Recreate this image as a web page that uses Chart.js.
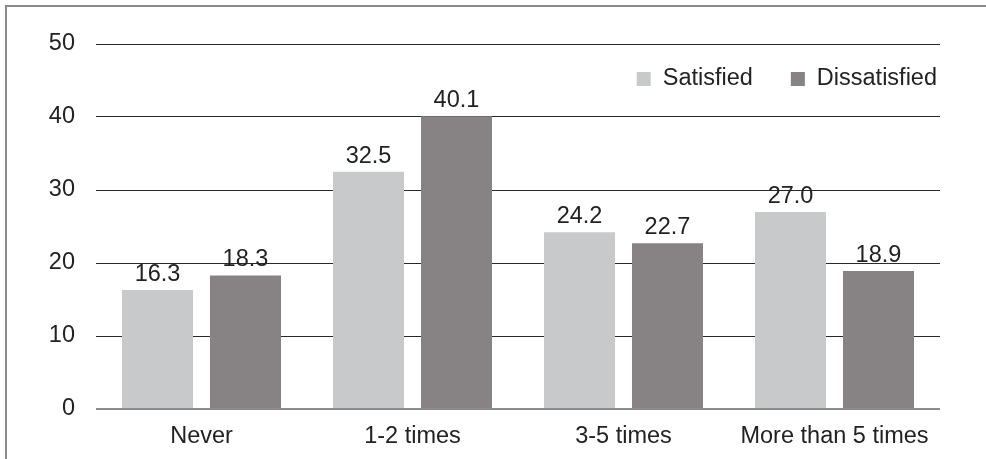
<!DOCTYPE html>
<html>
<head>
<meta charset="utf-8">
<script src="https://cdn.jsdelivr.net/npm/chart.js@4/dist/chart.umd.min.js"></script>
<style>
  html, body { margin: 0; padding: 0; background: #fff; }
  #wrap { position: relative; width: 986px; height: 459px; }
  #frame { position: absolute; left: 5px; top: 5px; right: 0; bottom: 0;
           border-top: 2px solid #8a8a8a; border-left: 2px solid #8a8a8a; pointer-events: none; }
  canvas { position: absolute; left: 0; top: 0; }
</style>
</head>
<body>
<div id="wrap">
  <canvas id="c" width="986" height="459"></canvas>
  <div id="frame"></div>
</div>
<script>
const categories = ['Never', '1-2 times', '3-5 times', 'More than 5 times'];
const satisfied = [16.3, 32.5, 24.2, 27.0];
const dissatisfied = [18.3, 40.1, 22.7, 18.9];
const yTicks = [0, 10, 20, 30, 40, 50];

const FONT = "'Liberation Sans', Arial, sans-serif";
const FONT_SIZE = 23.5;

// Writes each bar's value just above it
const valueLabels = {
  id: 'valueLabels',
  afterDatasetsDraw(chart) {
    const ctx = chart.ctx;
    ctx.save();
    ctx.font = FONT_SIZE + 'px ' + FONT;
    ctx.fillStyle = '#222';
    ctx.textAlign = 'center';
    ctx.textBaseline = 'alphabetic';
    chart.data.datasets.forEach((ds, i) => {
      chart.getDatasetMeta(i).data.forEach((bar, j) => {
        ctx.fillText(ds.data[j].toFixed(1), bar.x, bar.y - 9);
      });
    });
    ctx.restore();
  }
};

// Legend drawn inside the plot, top right, from the chart's own legend items
const innerLegend = {
  id: 'innerLegend',
  afterDraw(chart) {
    const ctx = chart.ctx;
    const area = chart.chartArea;
    const box = 14, gap = 12, itemGap = 38;
    ctx.save();
    ctx.font = FONT_SIZE + 'px ' + FONT;
    ctx.textBaseline = 'middle';
    ctx.textAlign = 'left';
    const items = chart.data.datasets.map(d => ({ text: d.label, color: d.backgroundColor }));
    const widths = items.map(it => box + gap + ctx.measureText(it.text).width);
    let x = area.right - 3 - widths.reduce((a, b) => a + b, 0) - itemGap * (items.length - 1);
    const cy = area.top + 35;
    items.forEach((it, k) => {
      ctx.fillStyle = it.color;
      ctx.fillRect(x, cy - box / 2, box, box);
      ctx.fillStyle = '#222';
      ctx.fillText(it.text, x + box + gap, cy);
      x += widths[k] + itemGap;
    });
    ctx.restore();
  }
};

new Chart(document.getElementById('c'), {
  type: 'bar',
  data: {
    labels: categories,
    datasets: [
      { label: 'Satisfied', data: satisfied, backgroundColor: '#c8c9cb' },
      { label: 'Dissatisfied', data: dissatisfied, backgroundColor: '#878384' }
    ]
  },
  options: {
    responsive: false,
    animation: false,
    devicePixelRatio: 1,
    layout: { padding: { top: 44, right: 46, left: 0, bottom: 0 } },
    datasets: { bar: { categoryPercentage: 0.834, barPercentage: 0.807 } },
    plugins: {
      tooltip: { enabled: false },
      legend: { display: false }
    },
    scales: {
      x: {
        grid: { display: false },
        border: { display: false },
        ticks: { font: { family: FONT, size: FONT_SIZE }, color: '#222', padding: 5 },
        afterFit(s) { s.height = 50; }
      },
      y: {
        min: 0,
        max: 50,
        afterBuildTicks(s) { s.ticks = yTicks.map(v => ({ value: v })); },
        border: { display: false },
        grid: {
          color: c => (c.tick && c.tick.value === 0) ? '#8c8c8c' : '#2a2a2a',
          lineWidth: c => (c.tick && c.tick.value === 0) ? 2 : 1,
          tickLength: 0,
          drawTicks: false
        },
        ticks: { font: { family: FONT, size: FONT_SIZE }, color: '#222', padding: 21 },
        afterFit(s) { s.width = 96; }
      }
    }
  },
  plugins: [valueLabels, innerLegend]
});
</script>
</body>
</html>
